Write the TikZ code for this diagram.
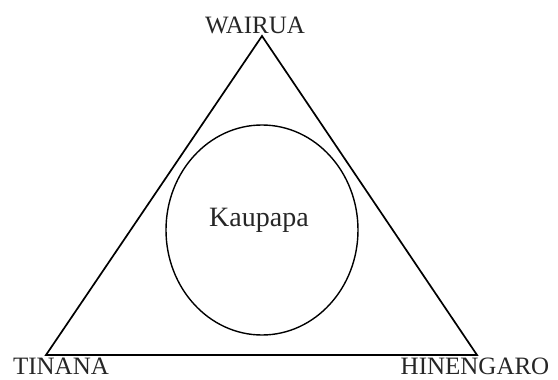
\documentclass[tikz,border=0pt]{standalone}
\usepackage{fontspec}
\setmainfont{Liberation Serif}
\usetikzlibrary{shapes.geometric}
\begin{document}
\begin{tikzpicture}[x=1pt,y=-1pt,
  lbl/.style={anchor=base,inner sep=0pt,font=\fontsize{25}{30}\selectfont,text=black!85},
  edge/.style={line width=1.7pt,line join=miter},
  ring/.style={ellipse,draw,line width=1.4pt,inner sep=0pt,minimum width=192pt,minimum height=210pt}]
\useasboundingbox (0,0) rectangle (558,380);
\coordinate (A) at (262,36);
\coordinate (B) at (46,355);
\coordinate (C) at (477,355);
\draw[edge] (A) -- (B) -- (C) -- cycle;
\node[ring] (circ) at (262,230) {};
\node[lbl,font=\fontsize{28}{32}\selectfont] (kt) at (259,226) {Kaupapa};
\node[lbl] (w) at (255,33) {WAIRUA};
\node[lbl] (t) at (61,374) {TINANA};
\node[lbl] (h) at (475,374) {HINENGARO};
\end{tikzpicture}
\end{document}
